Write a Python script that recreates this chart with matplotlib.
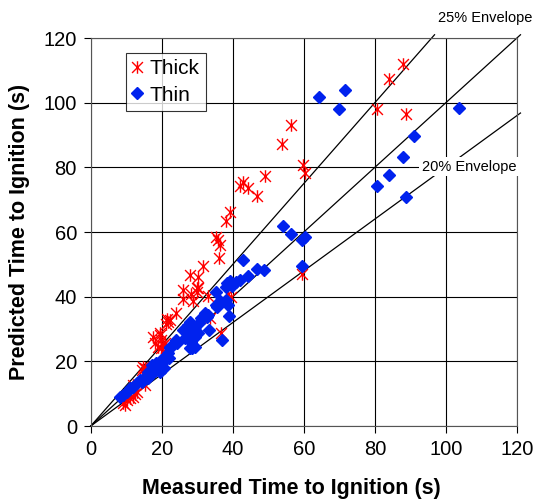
import matplotlib
matplotlib.use("Agg")
import matplotlib.pyplot as plt
from matplotlib.path import Path
import numpy as np

plt.rcParams['font.family'] = ['Liberation Sans', 'DejaVu Sans']

thick_x = [88.0, 84.0, 80.5, 88.7, 56.3, 53.8, 59.8, 60.2, 49.0, 42.9, 42.0, 44.3, 46.9, 59.6,
           39.2, 38.2, 35.2, 35.9, 36.3, 36.1, 31.5, 27.9, 30.3, 29.8, 26.0, 28.3, 30.2, 29.9,
           25.9, 28.8, 33.0, 38.7, 39.6, 23.9, 21.4, 21.8, 21.3, 22.3,
           17.5, 19.4, 19.9, 18.0, 19.0, 20.4, 20.8, 19.9, 21.3, 19.4, 33.5, 36.8,
           14.7, 14.3, 15.2, 15.2, 12.9, 11.9, 9.1, 10.1, 11.0, 11.9, 9.5, 12.5]
thick_y = [112.0, 107.3, 98.0, 96.5, 93.2, 87.2, 80.8, 78.2, 77.3, 75.6, 74.2, 73.5, 71.1, 47.0,
           66.3, 63.5, 58.6, 57.5, 56.0, 51.9, 49.5, 46.7, 46.0, 42.6, 42.0, 40.8, 42.6, 41.3,
           39.3, 38.8, 40.2, 40.8, 39.8, 34.9, 33.1, 32.3, 31.5, 32.8,
           27.6, 28.1, 26.6, 25.6, 24.5, 25.1, 25.6, 24.0, 24.0, 28.7, 33.3, 28.7,
           18.3, 17.3, 17.8, 12.7, 10.6, 12.7, 7.0, 8.0, 8.6, 9.1, 6.5, 9.8]

thin_x = [64.3, 71.6, 69.8, 103.6, 91.1, 87.8, 84.0, 80.5, 88.7,
          54.0, 56.4, 60.2, 59.6, 59.6,
          42.9, 46.9, 48.9, 39.2, 42.0, 44.2, 38.2, 39.9, 41.0, 38.4,
          36.5, 38.8, 35.2, 36.3, 35.6, 38.2, 35.4, 38.7,
          32.1, 32.6, 30.9, 33.0, 31.6,
          27.9, 27.4, 29.3, 30.5, 33.3, 37.0,
          26.0, 27.9, 27.0, 29.3, 28.1, 30.2, 24.1, 22.3, 28.4, 24.3, 26.5, 29.8, 27.9, 29.3,
          22.3, 21.8, 20.8, 19.9, 18.5, 17.1, 17.5, 19.0, 19.4, 16.1, 16.6, 15.2, 13.8, 12.9,
          11.9, 11.0, 10.1, 9.1, 8.2, 18.0, 20.5, 14.5, 16.0, 17.0, 21.0, 22.0]
thin_y = [101.8, 103.8, 98.0, 98.3, 89.7, 83.1, 77.7, 74.1, 70.9,
          61.9, 59.3, 58.6, 57.5, 49.6,
          51.2, 48.7, 48.4, 44.9, 45.2, 46.3, 43.1, 43.3, 44.6, 44.1,
          38.1, 34.0, 41.5, 38.7, 36.9, 39.0, 37.4, 37.4,
          34.9, 33.8, 33.3, 34.3, 33.8,
          32.3, 31.2, 30.7, 31.8, 29.7, 26.7,
          29.7, 28.7, 27.4, 27.6, 26.1, 28.7, 26.6, 24.5, 24.0, 25.8, 27.1, 29.2, 24.0, 24.5,
          24.0, 22.5, 21.4, 20.4, 19.4, 18.9, 17.8, 18.3, 16.8, 16.8, 15.8, 15.2, 14.2, 13.2,
          12.2, 11.7, 10.6, 9.6, 9.1, 17.0, 18.0, 13.5, 15.0, 16.3, 20.5, 21.0]

ticks = [0, 20, 40, 60, 80, 100, 120]
envelope_slopes = [1.25, 1.0, 0.8]

# Excel-style "star" marker: an X with a vertical bar
star = Path([(-1, -1), (1, 1), (-1, 1), (1, -1), (0, -1.15), (0, 1.15)],
            [Path.MOVETO, Path.LINETO, Path.MOVETO, Path.LINETO, Path.MOVETO, Path.LINETO])

fig = plt.figure(figsize=(5.34, 5.0), dpi=100)
ax = fig.add_axes([0.170, 0.148, 0.798, 0.776])

ax.set_xlim(0, 120)
ax.set_ylim(0, 120)
ax.set_xticks(ticks)
ax.set_yticks(ticks)
ax.grid(True, color='black', linewidth=0.8)
ax.set_axisbelow(True)
for s in ax.spines.values():
    s.set_color('#555555')
    s.set_linewidth(0.8)
ax.tick_params(direction='out', length=5, width=0.8, labelsize=14.5, colors='black', pad=5)

for k in envelope_slopes:
    xmax = min(121.0, 121.0 / k)
    ax.plot([0, xmax], [0, k * xmax], color='black', linewidth=0.9, clip_on=False, zorder=2)

ax.plot(thick_x, thick_y, linestyle='none', marker=star, markersize=9,
        markeredgecolor='red', markeredgewidth=1.0, color='red', label='Thick', zorder=3)
ax.plot(thin_x, thin_y, linestyle='none', marker='D', markersize=5.8,
        color='#0022ee', markeredgecolor='#0022ee', label='Thin', zorder=4)

ax.text(97.8, 126.3, '25% Envelope', fontsize=10.5, va='center', ha='left', clip_on=False)
ax.text(93.3, 80.2, '20% Envelope', fontsize=10.5, va='center', ha='left',
        bbox=dict(facecolor='white', edgecolor='none', pad=2), zorder=5)

leg = ax.legend(loc='upper left', bbox_to_anchor=(0.082, 0.961), fontsize=15,
                frameon=True, fancybox=False, edgecolor='black', handlelength=0.5,
                handletextpad=0.35, borderpad=0.3, labelspacing=0.35, borderaxespad=0)
leg.get_frame().set_linewidth(0.8)

ax.set_xlabel('Measured Time to Ignition (s)', fontsize=15.5, fontweight='bold')
ax.xaxis.set_label_coords(0.47, -0.133)
ax.set_ylabel('Predicted Time to Ignition (s)', fontsize=15.5, fontweight='bold', labelpad=10)

fig.savefig('out.png', dpi=100)
